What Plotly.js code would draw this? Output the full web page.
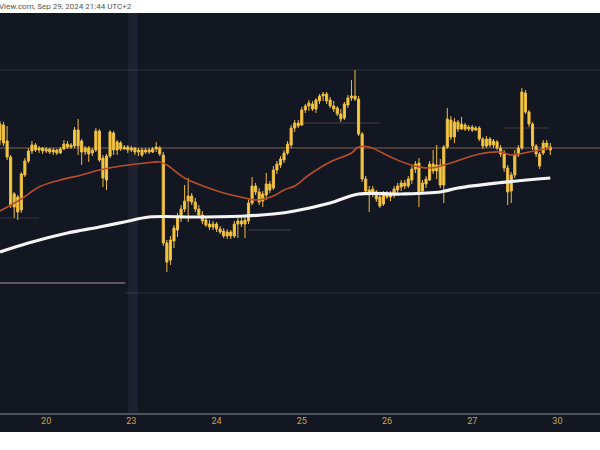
<!DOCTYPE html>
<html>
<head>
<meta charset="utf-8">
<script src="https://cdn.plot.ly/plotly-3.0.1.min.js"></script>
<style>
html,body{margin:0;padding:0;background:#ffffff;}
#chart{width:600px;height:450px;}
</style>
</head>
<body>
<div id="chart"></div>
<script>
// Hourly candles; index 0 = Sep 20 00:00 (weekend hours skipped). Price scale is unlabeled in the picture.
const firstHour = -13;
const open  = [360,375,359,343,293,303,290,325,339,349,355,350,352,349,351,348,350,347,351,356,353,354,370,359,348,352,347,350,369,342,320,344,367,350,357,351,353,350,352,348,350,348,350,348,351,352,345,257,240,259,270,282,291,299,304,298,291,285,280,276,273,276,271,269,264,268,264,276,279,276,279,297,314,308,299,305,316,312,330,335,340,347,355,372,377,375,390,394,396,391,399,404,406,400,394,392,386,382,395,402,404,401,366,321,310,306,308,303,296,306,303,305,310,313,317,314,320,331,337,309,316,320,336,329,335,315,353,380,363,378,371,375,371,373,370,372,361,354,361,355,358,352,346,332,309,325,345,352,407,388,376,354,346,347,357,353];
const high  = [379,378,374,345,308,305,328,342,352,359,357,354,353,353,352,352,351,353,360,359,357,373,381,361,354,354,352,372,371,345,346,370,369,360,359,355,355,354,353,352,352,352,352,353,358,354,348,260,264,275,287,295,315,322,307,302,295,289,283,280,279,278,274,272,271,270,279,282,282,284,300,323,317,312,309,327,319,334,339,344,350,359,375,380,380,393,396,400,399,402,406,408,408,403,399,394,391,398,405,420,430,404,368,324,314,314,310,308,309,309,309,314,317,320,320,324,334,339,342,320,324,339,350,355,341,355,392,384,382,380,383,377,375,375,374,374,363,364,363,361,360,355,350,335,328,350,355,412,410,390,378,356,348,360,360,357];
const low   = [355,354,340,292,282,280,287,323,337,346,348,347,346,347,346,345,345,346,350,351,351,352,345,335,345,338,344,348,338,313,310,342,345,345,349,350,347,348,345,344,343,346,346,347,348,344,254,228,235,252,263,278,288,278,295,288,282,276,273,270,270,268,266,262,261,261,262,262,273,262,276,295,305,295,293,300,307,310,326,332,337,345,352,368,372,374,387,389,389,387,396,399,396,392,388,384,378,380,392,399,399,364,318,306,288,303,298,292,294,301,299,302,307,309,311,312,316,327,293,306,312,319,326,321,312,297,351,360,357,368,370,369,369,368,369,359,351,352,353,352,350,343,328,295,297,322,343,350,386,373,350,343,331,345,350,345];
const close = [376,357,343,295,306,288,326,339,349,355,350,352,349,351,348,350,347,351,356,353,355,370,354,348,352,346,350,369,340,322,344,368,350,358,351,353,350,352,348,350,345,350,348,351,353,346,257,238,260,272,282,291,299,304,298,291,285,279,275,273,276,271,268,264,268,264,276,279,276,280,297,314,308,298,306,316,310,330,336,341,347,356,372,377,374,390,394,397,391,400,404,406,399,394,391,386,381,396,402,404,401,366,321,309,306,311,301,294,306,303,306,311,314,317,314,321,331,336,308,317,321,336,329,335,315,353,381,363,378,371,376,371,373,370,372,361,354,361,355,359,352,346,332,308,325,345,352,408,388,376,354,346,334,357,353,350];

// Orange moving average, read at these candle indices
const maFastX = [-13,-7,-2,4,10,15,21,28,32,34,39,45,50,56,59,64,67,70,74,80,86,88,91,97,102,108,114,122,128,131,136,142];
const maFast  = [289,301,313,320,325,330,334,337,338,335,322,313,307,302,300,304,310,314,325,338,347,353,353,343,336,332,337,346,348,345,348,352];
// White moving average
const maSlowX = [-13,-5,6,15,22,29,42,56,64,70,80,88,100,111,116,127,142];
const maSlow  = [248,257,267,273,278,283,283,284,286,289,297,306,306,308,312,317,322];

// Day labels on the time axis
const dayTicks  = [0,24,48,72,96,120,144];
const dayLabels = ['20','23','24','25','26','27','30'];

const hours = open.map((_, i) => firstHour + i);
const dark = '#131722';

const traces = [
  {type:'scatter', mode:'lines', x:maFastX, y:maFast, hoverinfo:'skip',
   line:{color:'#b94e2c', width:1.6, shape:'spline', smoothing:1}},
  {type:'candlestick', x:hours, open:open, high:high, low:low, close:close, hoverinfo:'skip',
   whiskerwidth:0,
   increasing:{line:{color:'#ecbd3e', width:1}, fillcolor:'#f7cb47'},
   decreasing:{line:{color:'#ecbd3e', width:1}, fillcolor:'#f7cb47'}},
  {type:'scatter', mode:'lines', x:maSlowX, y:maSlow, hoverinfo:'skip',
   line:{color:'#f4f4f4', width:3.2, shape:'spline', smoothing:1}}
];

const hline = (y, x0, x1, color, w, xref) => ({type:'line', xref:xref||'x', yref:'y', x0:x0, x1:x1, y0:y, y1:y, line:{color:color, width:w||1}, layer:'below'});

const layout = {
  width:600, height:450,
  margin:{l:0, r:0, t:13, b:37, pad:0},
  paper_bgcolor:'#ffffff', plot_bgcolor:dark,
  showlegend:false,
  boxgap:0.15,
  xaxis:{range:[-13,156], fixedrange:true, showgrid:false, zeroline:false,
    tickvals:dayTicks, ticktext:dayLabels, ticks:'', ticklabelstandoff:-2,
    tickfont:{family:'Roboto, Arial, sans-serif', size:9, color:'#c9a64f'},
    showline:true, linecolor:'#50545e', linewidth:2,
    rangeslider:{visible:false}},
  yaxis:{range:[87,487], fixedrange:true, showgrid:false, zeroline:false, showticklabels:false, ticks:''},
  shapes:[
    {type:'rect', xref:'paper', yref:'paper', x0:0, x1:1, y0:-0.0475, y1:0, fillcolor:dark, line:{width:0}, layer:'below'},
    {type:'rect', xref:'x', yref:'paper', x0:23.1, x1:25.9, y0:0, y1:1, fillcolor:'#1e2230', line:{width:0}, layer:'below'},
    hline(430, 0, 1, 'rgba(120,124,140,0.28)', 1, 'paper'),
    hline(352, 0, 1, 'rgba(200,150,120,0.6)', 1, 'paper'),
    hline(207, 22.3, 156, 'rgba(120,124,140,0.28)', 1),
    hline(217, -13, 22.3, 'rgba(160,140,165,0.7)', 1.5),
    hline(282, -13, -2, 'rgba(120,124,140,0.3)', 1),
    hline(377, 71.5, 94, 'rgba(170,130,120,0.35)', 1),
    hline(372, 129, 141.5, 'rgba(170,130,120,0.35)', 1),
    hline(270, 57, 69, 'rgba(150,150,160,0.35)', 1)
  ],
  annotations:[
    {xref:'paper', yref:'paper', x:0, y:1, yshift:7, xshift:-3, xanchor:'left', yanchor:'middle',
     text:'View.com, Sep 29, 2024 21:44 UTC+2', showarrow:false,
     font:{family:'Roboto, Arial, sans-serif', size:8, color:'#555555'}}
  ]
};

Plotly.newPlot('chart', traces, layout, {staticPlot:true, displayModeBar:false});
</script>
</body>
</html>
